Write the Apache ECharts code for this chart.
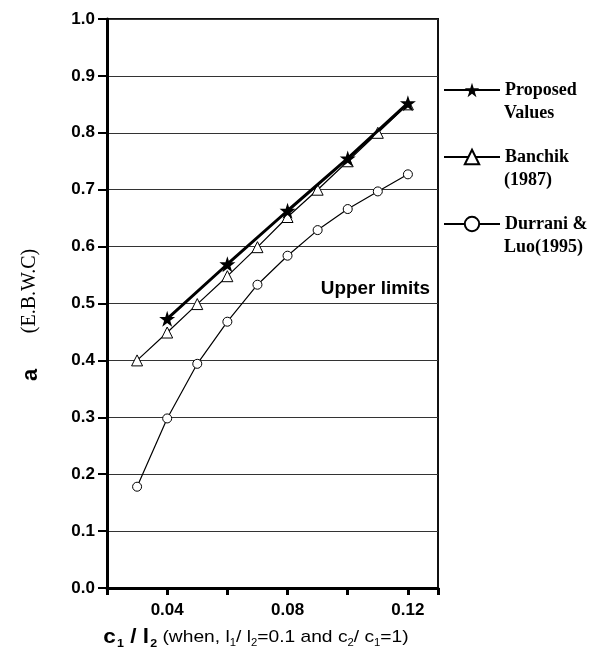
<!DOCTYPE html>
<html>
<head>
<meta charset="utf-8">
<script src="https://cdn.jsdelivr.net/npm/echarts@6/dist/echarts.min.js"></script>
<style>html,body{margin:0;padding:0;background:#fff;}#c{width:597px;height:655px;}</style>
</head>
<body>
<div id="c"></div>
<script>
// ---- data ----
const xProposed = [0.04, 0.06, 0.08, 0.10, 0.12];
const proposed  = [0.473, 0.569, 0.663, 0.755, 0.852];
const xBanchik  = [0.03, 0.04, 0.05, 0.06, 0.07, 0.08, 0.09, 0.10, 0.11, 0.12];
const banchik   = [0.40, 0.449, 0.499, 0.548, 0.599, 0.652, 0.70, 0.75, 0.80, 0.85];
const xDurrani  = [0.03, 0.04, 0.05, 0.06, 0.07, 0.08, 0.09, 0.10, 0.11, 0.12];
const durrani   = [0.178, 0.298, 0.394, 0.468, 0.533, 0.584, 0.629, 0.666, 0.697, 0.727];
const seriesNames = ['Proposed Values', 'Banchik (1987)', 'Durrani & Luo(1995)'];
const legendFirst = ['Proposed', 'Banchik', 'Durrani &'];
const legendSecond = ['Values', '(1987)', 'Luo(1995)'];
const xLabeled = [0.04, 0.08, 0.12];

const pair = (xs, ys) => xs.map((x, i) => [x, ys[i]]);
const star = 'path://M100,0L122.45,69.1L195.1,69.1L136.3,111.8L158.8,180.9L100,138.2L41.2,180.9L63.7,111.8L4.9,69.1L77.55,69.1Z';

const chart = echarts.init(document.getElementById('c'), null, {renderer: 'canvas'});
const legendFirstY = 90, legendGap = 67, legendItemH = 22;
chart.setOption({
  backgroundColor: '#fff',
  animation: false,
  grid: {left: 107, right: 159, top: 19, bottom: 67, show: true, borderColor: '#111', borderWidth: 2, backgroundColor: 'transparent'},
  xAxis: {
    type: 'value', min: 0.02, max: 0.13, interval: 0.02,
    axisLine: {lineStyle: {color: '#000', width: 3}},
    axisTick: {show: true, length: 7, lineStyle: {color: '#000', width: 3}},
    splitLine: {show: false},
    axisLabel: {
      margin: 14, color: '#000', fontFamily: 'Liberation Sans', fontWeight: 'bold', fontSize: 17,
      formatter: v => xLabeled.some(t => Math.abs(t - v) < 1e-6) ? v.toFixed(2) : ''
    }
  },
  yAxis: {
    type: 'value', min: 0, max: 1, interval: 0.1,
    axisLine: {show: true, lineStyle: {color: '#000', width: 3}},
    axisTick: {show: true, length: 9, lineStyle: {color: '#000', width: 2}},
    splitLine: {show: true, lineStyle: {color: '#333', width: 1}},
    axisLabel: {margin: 12, color: '#000', fontFamily: 'Liberation Sans', fontWeight: 'bold', fontSize: 17, formatter: v => v.toFixed(1)}
  },
  legend: {
    orient: 'vertical', left: 443, top: legendFirstY - legendItemH / 2, padding: 0,
    itemGap: legendGap - legendItemH,
    itemWidth: 56, itemHeight: 18,
    data: seriesNames,
    formatter: n => legendFirst[seriesNames.indexOf(n)],
    textStyle: {color: '#000', fontFamily: 'Liberation Serif', fontWeight: 'bold', fontSize: 18, lineHeight: legendItemH}
  },
  graphic: [
    ...legendSecond.map((t, i) => ({
      type: 'text', x: 504, y: legendFirstY + 23 + i * legendGap,
      style: {text: t, fill: '#000', font: 'bold 18px "Liberation Serif"', textVerticalAlign: 'middle'}
    })),
    {type: 'text', x: 430, y: 289, scaleX: 1.05,
     style: {text: 'Upper limits', fill: '#000', font: 'bold 18px "Liberation Sans"', textAlign: 'right', textVerticalAlign: 'middle'}},
    {type: 'text', x: 31, y: 375, rotation: Math.PI / 2,
     style: {text: 'a', fill: '#000', font: 'bold 22px "Liberation Sans"', textAlign: 'center', textVerticalAlign: 'middle'}},
    {type: 'text', x: 30, y: 291, rotation: Math.PI / 2,
     style: {text: '(E.B.W.C)', fill: '#000', font: '20px "Liberation Serif"', textAlign: 'center', textVerticalAlign: 'middle'}},
    {type: 'text', x: 256, y: 637, scaleX: 1.13,
     style: {text: '{c|c}{s|1}{c| / l}{s|2}{n| (when, l}{t|1}{n|/ l}{t|2}{n|=0.1 and c}{t|2}{n|/ c}{t|1}{n|=1)}',
       textAlign: 'center', textVerticalAlign: 'middle',
       rich: {c: {fontFamily: 'Liberation Sans', fontWeight: 'bold', fontSize: 20, fill: '#000'},
              s: {fontFamily: 'Liberation Sans', fontWeight: 'bold', fontSize: 11, fill: '#000', padding: [13, 0, 0, 1]},
              n: {fontFamily: 'Liberation Sans', fontSize: 17, fill: '#000'},
              t: {fontFamily: 'Liberation Sans', fontSize: 10, fill: '#000', padding: [13, 0, 0, 0]}}}}
  ],
  series: [
    {name: seriesNames[2], type: 'line', data: pair(xDurrani, durrani), z: 3,
     symbol: 'circle', symbolSize: 9,
     itemStyle: {color: '#fff', borderColor: '#000', borderWidth: 1},
     lineStyle: {color: '#000', width: 1.2}},
    {name: seriesNames[1], type: 'line', data: pair(xBanchik, banchik), z: 4,
     symbol: 'triangle', symbolSize: 11,
     itemStyle: {color: '#fff', borderColor: '#000', borderWidth: 1},
     lineStyle: {color: '#000', width: 1.2}},
    {name: seriesNames[0], type: 'line', data: pair(xProposed, proposed), z: 5,
     symbol: star, symbolSize: 16,
     itemStyle: {color: '#000'},
     lineStyle: {color: '#000', width: 3}}
  ]
});
</script>
</body>
</html>
